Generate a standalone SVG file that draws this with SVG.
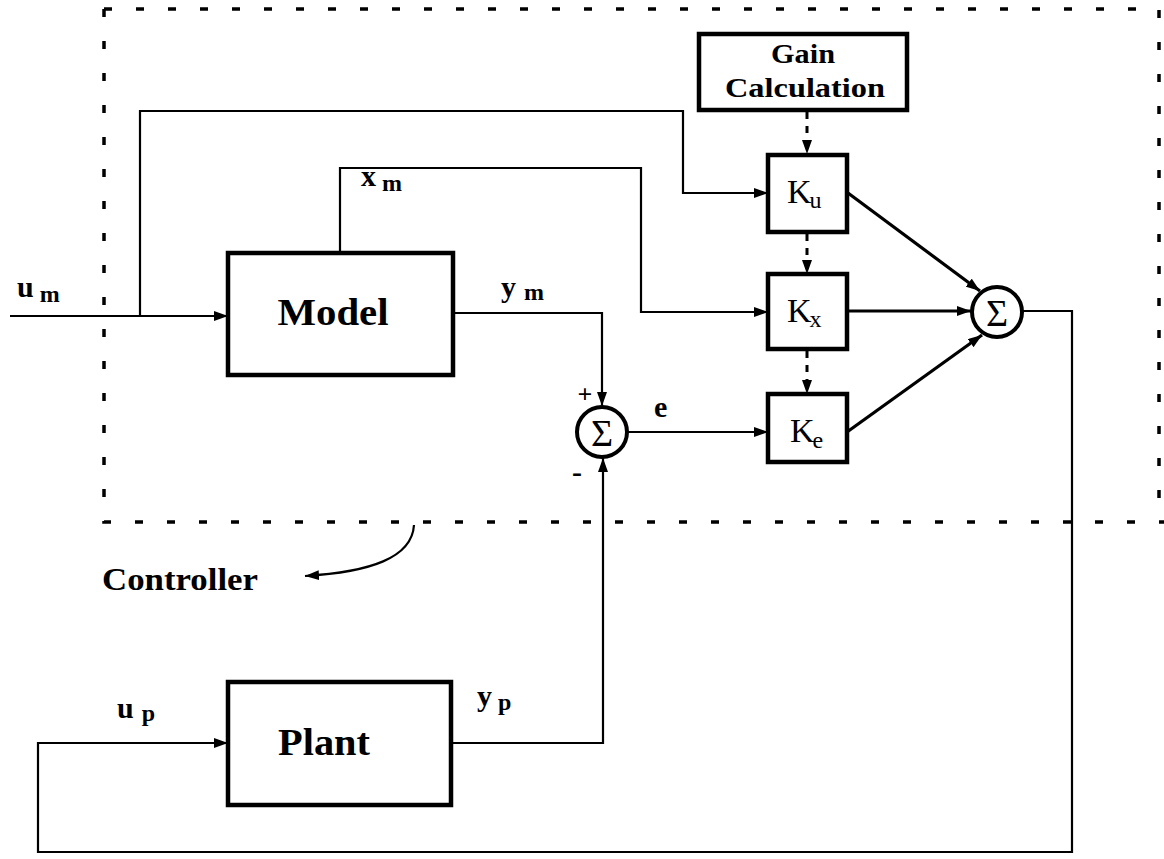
<svg xmlns="http://www.w3.org/2000/svg" width="1164" height="859" viewBox="0 0 1164 859">
<defs>
<style>
.box{fill:#fff;stroke:#000;stroke-width:4.5}
.ln{fill:none;stroke:#000;stroke-width:2.2}
.thk{fill:none;stroke:#000;stroke-width:3.2}
.dot{fill:none;stroke:#000;stroke-width:3;stroke-dasharray:7 7}
.bnd{fill:none;stroke:#000;stroke-width:3.5;stroke-dasharray:8 24}
.sig{fill:#fff;stroke:#000;stroke-width:4}
.t{font-family:"Liberation Serif","Times New Roman",serif;font-weight:bold;fill:#000}
.k{font-family:"Liberation Serif","Times New Roman",serif;fill:#000}
</style>
<marker id="ah" viewBox="0 0 14 10" refX="14" refY="5" markerWidth="14" markerHeight="10" markerUnits="userSpaceOnUse" orient="auto">
<path d="M0,0 L14,5 L0,10 Z" fill="#000"/>
</marker>
</defs>
<rect width="1164" height="859" fill="#fff"/>

<g id="controller-boundary">
<path class="bnd" d="M104,9 H1159 V522"/>
<path class="bnd" d="M104,9 V522 H1164"/>
</g>

<g id="connectors">
<path class="ln" d="M10,316 H228" marker-end="url(#ah)"/>
<path class="ln" d="M140,316 V111 H683 V193 H768" marker-end="url(#ah)"/>
<path class="ln" d="M340,253 V168 H641 V312 H768" marker-end="url(#ah)"/>
<path class="ln" d="M453,313 H602 V406" marker-end="url(#ah)"/>
<path class="ln" d="M628,432 H768" marker-end="url(#ah)"/>
<path class="ln" d="M451,743 H603 V458" marker-end="url(#ah)"/>
<path class="thk" d="M848,193 L980,291" marker-end="url(#ah)"/>
<path class="thk" d="M847,311 L971,311" marker-end="url(#ah)"/>
<path class="thk" d="M847,432 L982,335" marker-end="url(#ah)"/>
<path class="ln" d="M1022,311 H1072 V852 H38 V743 H228" marker-end="url(#ah)"/>
<path class="dot" d="M807,112 V154" marker-end="url(#ah)"/>
<path class="dot" d="M807,234 V274" marker-end="url(#ah)"/>
<path class="dot" d="M807,351 V394" marker-end="url(#ah)"/>
<path class="ln" d="M414,525 C412,558 370,572 305,576" marker-end="url(#ah)"/>
</g>

<g id="gain-calculation">
<rect class="box" x="699" y="34" width="208" height="76"/>
<text class="t" x="803" y="63" font-size="28" text-anchor="middle" textLength="64" lengthAdjust="spacingAndGlyphs">Gain</text>
<text class="t" x="805" y="97" font-size="28" text-anchor="middle" textLength="160" lengthAdjust="spacingAndGlyphs">Calculation</text>
</g>

<g id="model">
<rect class="box" x="228" y="253" width="225" height="122"/>
<text class="t" x="333" y="325" font-size="38" text-anchor="middle" textLength="111" lengthAdjust="spacingAndGlyphs">Model</text>
</g>

<g id="plant">
<rect class="box" x="228" y="682" width="223" height="123"/>
<text class="t" x="324" y="755" font-size="38" text-anchor="middle" textLength="92" lengthAdjust="spacingAndGlyphs">Plant</text>
</g>

<g id="ku">
<rect class="box" x="768" y="155" width="79" height="77"/>
<text class="k" x="787" y="203" font-size="34">K<tspan font-size="24" dx="-2" dy="5">u</tspan></text>
</g>
<g id="kx">
<rect class="box" x="768" y="274" width="79" height="75"/>
<text class="k" x="787" y="322" font-size="34">K<tspan font-size="24" dx="-2" dy="5">x</tspan></text>
</g>
<g id="ke">
<rect class="box" x="768" y="394" width="79" height="68"/>
<text class="k" x="790" y="442" font-size="34">K<tspan font-size="24" dx="-2" dy="6">e</tspan></text>
</g>

<g id="sum-error">
<circle class="sig" cx="602" cy="432" r="25"/>
<text class="k" x="602" y="446" font-size="38" text-anchor="middle">Σ</text>
<text class="t" x="585" y="403" font-size="26" text-anchor="middle">+</text>
<text class="t" x="577" y="482" font-size="30" text-anchor="middle">-</text>
</g>

<g id="sum-output">
<circle class="sig" cx="997" cy="312" r="25"/>
<text class="k" x="997" y="326" font-size="38" text-anchor="middle">Σ</text>
</g>

<g id="labels">
<text class="t" x="17" y="297" font-size="30">u<tspan font-size="24" dx="6" dy="5">m</tspan></text>
<text class="t" x="361" y="186" font-size="30">x<tspan font-size="24" dx="6" dy="5">m</tspan></text>
<text class="t" x="501" y="297" font-size="30">y<tspan font-size="24" dx="8" dy="3">m</tspan></text>
<text class="t" x="654" y="417" font-size="30">e</text>
<text class="t" x="477" y="706" font-size="30">y<tspan font-size="24" dx="6" dy="4">p</tspan></text>
<text class="t" x="117" y="718" font-size="30">u<tspan font-size="24" dx="8" dy="3">p</tspan></text>
<text class="t" x="102" y="590" font-size="32" textLength="156" lengthAdjust="spacingAndGlyphs">Controller</text>
</g>
</svg>
